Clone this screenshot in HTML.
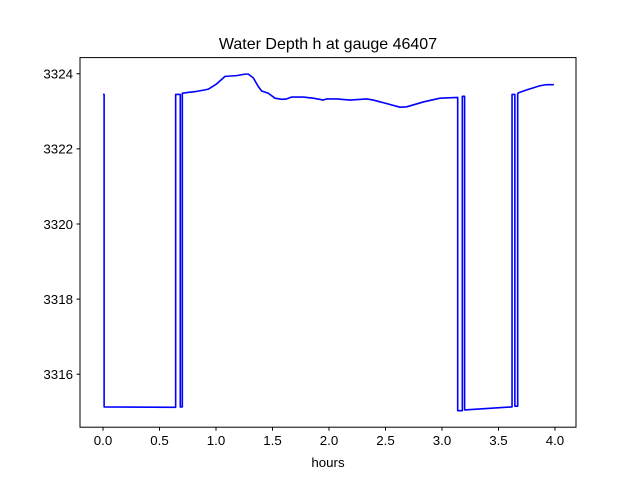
<!DOCTYPE html>
<html><head><meta charset="utf-8"><style>
body{margin:0;background:#fff;}
svg{display:block;font-family:"Liberation Sans","DejaVu Sans",sans-serif;}
</style></head><body>
<svg id="chart" width="640" height="480" viewBox="0 0 640 480">
<rect width="640" height="480" fill="#fff"/>
<text x="328" y="49" text-anchor="middle" font-size="16">Water Depth h at gauge 46407</text>
<g id="ticks"></g>
<path id="series" fill="none" stroke="#0000ff" stroke-width="1.6" stroke-linejoin="round"/>
<rect x="80" y="57.6" width="496" height="369.6" fill="none" stroke="#000" stroke-width="1"/>
<text x="328" y="467" text-anchor="middle" font-size="13.3">hours</text>
</svg>
<script>
const hours = [0,0.01,0.01,0.643,0.643,0.684,0.684,0.702,0.702,0.719,0.770,0.829,0.903,0.932,1.006,1.080,1.183,1.257,1.286,1.330,1.374,1.404,1.463,1.522,1.581,1.626,1.670,1.773,1.861,1.950,1.980,2.068,2.186,2.334,2.392,2.628,2.688,2.835,2.982,3.139,3.139,3.18,3.18,3.20,3.20,3.62,3.62,3.645,3.645,3.67,3.67,3.675,3.75,3.867,3.927,3.99];
const depth = [3323.45,3323.45,3315.13,3315.12,3323.45,3323.45,3315.13,3315.13,3323.48,3323.49,3323.51,3323.53,3323.57,3323.59,3323.73,3323.93,3323.95,3323.99,3323.99,3323.89,3323.66,3323.54,3323.48,3323.35,3323.32,3323.33,3323.38,3323.38,3323.35,3323.30,3323.33,3323.33,3323.30,3323.33,3323.30,3323.11,3323.12,3323.25,3323.35,3323.37,3315.03,3315.03,3323.40,3323.40,3315.05,3315.13,3323.45,3323.45,3315.15,3315.15,3323.47,3323.49,3323.57,3323.68,3323.71,3323.71];
const xTicks = [0,0.5,1,1.5,2,2.5,3,3.5,4];
const yTicks = [3316,3318,3320,3322,3324];
const X0=80,X1=576,Y0=427.2,Y1=57.6;
const xmin=-0.2035,xmax=4.186,ymin=3314.59,ymax=3324.43;
const sx=t=>X0+(t-xmin)/(xmax-xmin)*(X1-X0);
const sy=v=>Y0-(v-ymin)/(ymax-ymin)*(Y0-Y1);
const NS='http://www.w3.org/2000/svg';
document.getElementById('series').setAttribute('d',hours.map((t,i)=>(i?'L':'M')+sx(t).toFixed(2)+','+sy(depth[i]).toFixed(2)).join(''));
const g=document.getElementById('ticks');
xTicks.forEach(t=>{
  const l=document.createElementNS(NS,'line');
  l.setAttribute('x1',sx(t));l.setAttribute('x2',sx(t));l.setAttribute('y1',Y0);l.setAttribute('y2',Y0+3.5);l.setAttribute('stroke','#000');
  
  
  g.appendChild(l);
  const tx=document.createElementNS(NS,'text');
  tx.setAttribute('x',sx(t));tx.setAttribute('y',Y0+18);tx.setAttribute('text-anchor','middle');tx.setAttribute('font-size','13.3');
  tx.textContent=t.toFixed(1);
  
  
  g.appendChild(tx);
});
yTicks.forEach(v=>{
  const l=document.createElementNS(NS,'line');
  l.setAttribute('x1',X0-3.5);l.setAttribute('x2',X0);l.setAttribute('y1',sy(v));l.setAttribute('y2',sy(v));l.setAttribute('stroke','#000');
  
  
  g.appendChild(l);
  const tx=document.createElementNS(NS,'text');
  tx.setAttribute('x',X0-7);tx.setAttribute('y',sy(v)+4.8);tx.setAttribute('text-anchor','end');tx.setAttribute('font-size','13.3');
  tx.textContent=v;
  
  
  g.appendChild(tx);
});
</script>
</body></html>
